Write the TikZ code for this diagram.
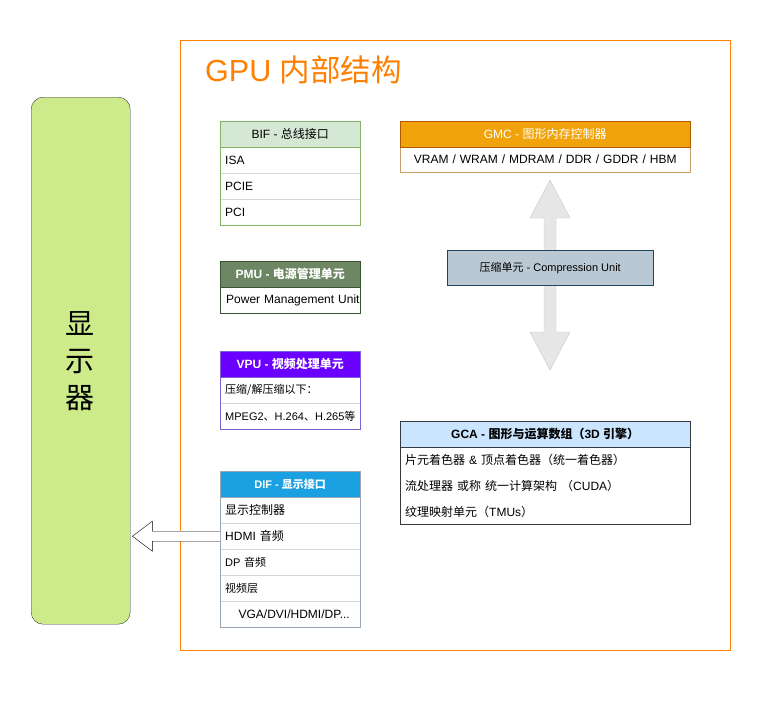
\documentclass[tikz,border=0pt]{standalone}
\usepackage{fontspec}
\setmainfont{Liberation Sans}
\newfontfamily\cjk{Noto Sans CJK SC}
\usetikzlibrary{calc}
\definecolor{frameor}{HTML}{FF8000}
\definecolor{dispfill}{HTML}{CDEB8B}
\definecolor{dark}{HTML}{36393D}
\definecolor{bifH}{HTML}{D5E8D4}
\definecolor{bifS}{HTML}{82B366}
\definecolor{pmuH}{HTML}{6D8764}
\definecolor{pmuS}{HTML}{3A5431}
\definecolor{vpuH}{HTML}{6A00FF}
\definecolor{vpuS}{HTML}{7E62D4}
\definecolor{difH}{HTML}{1BA1E2}
\definecolor{difS}{HTML}{9AA6B2}
\definecolor{gmcH}{HTML}{F0A30A}
\definecolor{gmcS}{HTML}{C9A06A}
\definecolor{gcaH}{HTML}{CCE5FF}
\definecolor{cuF}{HTML}{BAC8D3}
\definecolor{cuS}{HTML}{23445D}
\definecolor{arrF}{HTML}{E6E6E6}
\definecolor{arrS}{HTML}{C8C8C8}
\definecolor{sep}{HTML}{D6D6D6}
\tikzset{
  cell/.style={draw=sep, anchor=north west, inner xsep=5pt, inner ysep=0pt,
    text width=#1, align=left, minimum height=26pt, font=\fontsize{12}{14}\selectfont},
  cell/.default=130pt,
  hdr/.style={anchor=north west, inner sep=0pt, minimum width=#1, minimum height=26pt,
    font=\fontsize{12}{14}\selectfont},
  hdr/.default=140pt
}
\begin{document}
\begin{tikzpicture}[x=1pt,y=-1pt]
\useasboundingbox (0,0) rectangle (761,702);
\fill[white] (0,0) rectangle (761,702);

% outer frame
\node[draw=frameor, line width=0.8pt, anchor=north west, minimum width=550pt, minimum height=610pt, inner sep=0pt] (frame) at (180,40) {};
\node[anchor=west, text=frameor, inner sep=0pt, font=\fontsize{30.5}{33}\selectfont] (title) at (205,70) {GPU {\cjk 内部结构}};

% display
\node[draw=dark, fill=dispfill, rounded corners=12pt, anchor=north west, minimum width=99pt, minimum height=527pt, inner sep=0pt] (disp) at (31,97) {};
\node[align=center, font=\fontsize{29}{37}\selectfont\cjk, inner sep=0pt] (disptext) at (80,361) {显\\示\\器};

% BIF
\node[hdr, fill=bifH] (bif) at (220,121) {BIF - {\cjk 总线接口}};
\node[cell] (bif1) at (220,147) {ISA};
\node[cell] (bif2) at (220,173) {PCIE};
\node[cell] (bif3) at (220,199) {PCI};
\draw[bifS] (bif.north west) rectangle (bif3.south east);
\draw[bifS] (bif.south west) -- (bif.south east);

% PMU
\node[hdr, fill=pmuH, text=white, font=\fontsize{12}{14}\selectfont\bfseries] (pmu) at (220,261) {PMU - {\cjk\bfseries 电源管理单元}};
\begin{scope}
\clip (220,280) rectangle (359,320);
\node[cell=140pt] (pmu1) at (220,287) {\hspace*{1pt}Power Management Unit};
\end{scope}
\draw[pmuS] (pmu.north west) rectangle (360,313);
\draw[pmuS] (pmu.south west) -- (pmu.south east);

% VPU
\node[hdr, fill=vpuH, text=white, font=\fontsize{12}{14}\selectfont\bfseries] (vpu) at (220,351) {VPU - {\cjk\bfseries 视频处理单元}};
\node[cell, font=\fontsize{11}{13}\selectfont] (vpu1) at (220,377) {\cjk 压缩/解压缩以下：};
\node[cell, font=\fontsize{11}{13}\selectfont] (vpu2) at (220,403) {MPEG2{\cjk 、}H.264{\cjk 、}H.265{\cjk 等}};
\draw[vpuS] (vpu.north west) rectangle (vpu2.south east);
\draw[vpuS] (vpu.south west) -- (vpu.south east);

% DIF
\node[hdr, fill=difH, text=white, font=\fontsize{11}{13}\selectfont\bfseries] (dif) at (220,471) {DIF - {\cjk\bfseries 显示接口}};
\node[cell] (dif1) at (220,497) {\cjk 显示控制器};
\node[cell] (dif2) at (220,523) {HDMI {\cjk 音频}};
\node[cell, font=\fontsize{11}{13}\selectfont] (dif3) at (220,549) {DP {\cjk 音频}};
\node[cell, font=\fontsize{11}{13}\selectfont] (dif4) at (220,575) {\cjk 视频层};
\node[cell, inner xsep=0pt, text width=140pt, align=center] (dif5) at (220,601) {\hspace*{8pt}VGA/DVI/HDMI/DP...};
\draw[difS] (dif.north west) rectangle (dif5.south east);
\draw[difS] (dif.south west) -- (dif.south east);

% arrow DIF -> display
\coordinate (tip) at ($(disp.east |- dif2.west)+(2,0)$);
\draw[black, fill=white, line join=miter]
  ($(dif2.west)+(0,-5)$) -- ($(tip)+(20,-5)$) -- ($(tip)+(20,-15)$) -- (tip)
  -- ($(tip)+(20,15)$) -- ($(tip)+(20,5)$) -- ($(dif2.west)+(0,5)$);

% GMC
\node[hdr=290pt, fill=gmcH, text=white] (gmc) at (400,121) {GMC - {\cjk 图形内存控制器}};
\node[cell=280pt, align=center, minimum height=25pt] (gmc1) at (400,147) {VRAM / WRAM / MDRAM / DDR / GDDR / HBM};
\draw[gmcS] (gmc.north west) rectangle (gmc1.south east);
\draw[frameor!70!black] (gmc.north west) rectangle (gmc.south east);

% double arrow
\coordinate (atop) at (550,180);
\coordinate (abot) at (550,370);
\draw[arrS, fill=arrF, line join=miter]
  (atop) -- ($(atop)+(20,38)$) -- ($(atop)+(6,38)$) -- ($(abot)+(6,-38)$) -- ($(abot)+(20,-38)$)
  -- (abot) -- ($(abot)+(-20,-38)$) -- ($(abot)+(-6,-38)$) -- ($(atop)+(-6,38)$) -- ($(atop)+(-20,38)$) -- cycle;

% compression unit
\node[draw=cuS, fill=cuF, anchor=north west, minimum width=206pt, minimum height=35pt, inner sep=0pt,
  font=\fontsize{11}{13}\selectfont] (cu) at (447,250) {{\cjk 压缩单元} - Compression Unit};

% GCA
\node[hdr=290pt, fill=gcaH, font=\fontsize{12}{14}\selectfont\bfseries] (gca) at (400,421) {GCA - {\cjk\bfseries 图形与运算数组（}3D {\cjk\bfseries 引擎）}};
\node[cell=280pt, draw=none] (gca1) at (400,447) {{\cjk 片元着色器} \& {\cjk 顶点着色器（统一着色器）}};
\node[cell=280pt, draw=none] (gca2) at (400,473) {{\cjk 流处理器 或称 统一计算架构 （}CUDA{\cjk ）}};
\node[cell=280pt, draw=none, minimum height=25pt] (gca3) at (400,499) {{\cjk 纹理映射单元（}TMUs{\cjk ）}};
\draw[dark] (gca.north west) rectangle (gca3.south east);
\draw[dark] (gca.south west) -- (gca.south east);
\end{tikzpicture}
\end{document}
